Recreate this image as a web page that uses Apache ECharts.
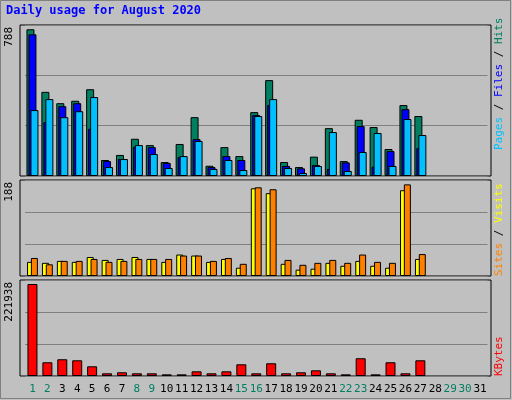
<!DOCTYPE html><html><head><meta charset="utf-8">
<script src="https://cdn.jsdelivr.net/npm/echarts@6/dist/echarts.min.js"></script>
<style>html,body{margin:0;padding:0;background:#c0c0c0}#c{width:512px;height:400px}</style></head><body><div id="c"></div>
<script>
const days = Array.from({length:31},(_,i)=>String(i+1));
const weekend = ['1','2','8','9','15','16','22','23','29','30'];
const hits  = [788,452,391,404,466,86,113,200,166,75,172,316,55,155,107,343,515,75,48,104,257,80,302,263,145,381,322];
const files = [761,290,375,391,254,80,91,157,155,70,102,198,48,107,86,327,381,54,41,59,38,73,268,50,134,359,150];
const pages = [354,413,316,348,424,48,91,166,118,43,107,188,38,86,32,322,413,43,16,54,236,27,129,231,54,306,220];
const sites = [29,27,31,29,39,33,35,39,35,29,44,42,29,35,17,180,170,25,13,15,27,21,31,21,17,176,35];
const visits= [37,24,31,31,35,29,31,35,35,35,42,42,31,37,25,182,178,33,23,27,33,27,44,29,27,188,45];
const kbytes= [221938,33100,40400,37900,23400,6500,8900,6500,6500,4000,4000,11300,6500,11300,28200,6500,30700,6500,8900,13700,6500,4000,42800,4000,33100,6500,37900];
const maxLabels = ['788','188','221938'];
const ymax = [811,197,231600];
const F = '"DejaVu Sans Mono", monospace';
const panels = [[25,176],[180,276],[280,376]];
const ch = echarts.init(document.getElementById('c'));
const grids = panels.map(p=>({left:25,right:24.5,top:p[0],height:p[1]-p[0]}));
const bs = {borderColor:'#000',borderWidth:1};
function bar(name,data,color,idx,w,gap){return {type:'bar',name,data,xAxisIndex:idx,yAxisIndex:idx,barWidth:w,barGap:gap,itemStyle:Object.assign({color},bs),animation:false};}
const gfx = [];
panels.forEach(p=>gfx.push({type:'rect',z:-10,shape:{x:20,y:p[0],width:471,height:p[1]-p[0]},style:{fill:'#c0c0c0',stroke:'#000',lineWidth:1}}));
gfx.push({type:'rect',z:-20,shape:{x:0.5,y:0.5,width:510,height:398},style:{fill:'#c0c0c0',stroke:'#808080',lineWidth:1}});
gfx.push({type:'text',left:6,top:5,style:{text:'Daily usage for August 2020',fill:'#0000ff',font:'bold 12px '+F}});
panels.forEach((p,i)=>gfx.push({type:'text',x:9,y:p[0]+2,rotation:Math.PI/2,style:{text:maxLabels[i],fill:'#000',font:'11px '+F,align:'right',verticalAlign:'middle'}}));
function rt(x,y,parts){gfx.push({type:'text',x,y,rotation:Math.PI/2,style:{text:parts.map(q=>'{'+q[1]+'|'+q[0]+'}').join(''),rich:{a:{fill:'#00c0ff',font:'11px '+F},b:{fill:'#0000ff',font:'11px '+F},c:{fill:'#008060',font:'11px '+F},d:{fill:'#ff8000',font:'11px '+F},e:{fill:'#ffff00',font:'11px '+F},f:{fill:'#000',font:'11px '+F},g:{fill:'#ff0000',font:'11px '+F}},align:'left',verticalAlign:'middle'}});}
rt(499,150,[['Pages','a'],[' / ','f'],['Files','b'],[' / ','f'],['Hits','c']]);
rt(499,276,[['Sites','d'],[' / ','f'],['Visits','e']]);
rt(499,376,[['KBytes','g']]);
ch.setOption({
 animation:false,
 grid:grids,
 graphic:gfx,
 xAxis:[0,1,2].map(i=>({type:'category',gridIndex:i,data:days,axisLine:{show:false},axisTick:{show:false},
   axisLabel:{show:i===2,interval:0,margin:8,fontFamily:F,fontSize:11,color:'#000',
     formatter:v=>weekend.includes(v)?'{g|'+v+'}':v,rich:{g:{color:'#008060',fontFamily:F,fontSize:11}}}})),
 yAxis:[0,1,2].map(i=>({type:'value',gridIndex:i,min:0,max:ymax[i],interval:ymax[i]/3,axisLabel:{show:false},axisLine:{show:false},axisTick:{show:false},splitLine:{lineStyle:{color:'#808080',width:1}}})),
 series:[
  bar('Hits',hits,'#008060',0,8,'-75%'),
  bar('Files',files,'#0000ff',0,8,'-75%'),
  bar('Pages',pages,'#00c0ff',0,8,'-75%'),
  bar('Sites',sites,'#ffff00',1,7,'-45%'),
  bar('Visits',visits,'#ff8000',1,7,'-45%'),
  bar('KBytes',kbytes,'#ff0000',2,10,'0%')
 ]
});
</script></body></html>
